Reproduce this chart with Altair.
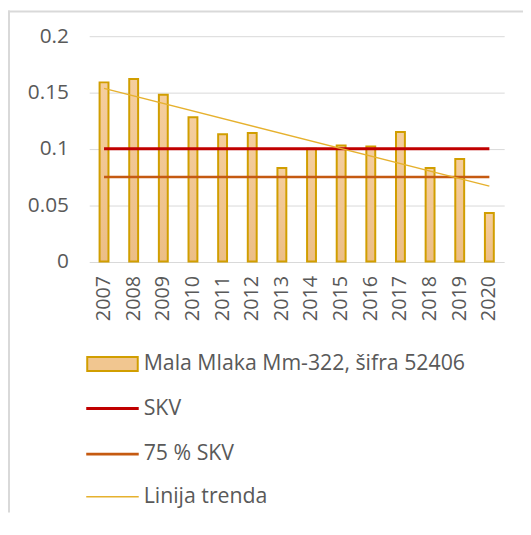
import altair as alt
import pandas as pd

years = [2007, 2008, 2009, 2010, 2011, 2012, 2013, 2014, 2015, 2016, 2017, 2018, 2019, 2020]
values = [0.159, 0.162, 0.148, 0.128, 0.113, 0.114, 0.083, 0.100, 0.103, 0.102, 0.115, 0.083, 0.091, 0.043]
skv_value = 0.1
skv75_value = 0.075
y_ticks = [0, 0.05, 0.1, 0.15, 0.2]
legend_labels = ["Mala Mlaka Mm-322, šifra 52406", "SKV", "75 % SKV", "Linija trenda"]

FONT = "Open Sans"
TXT = "#595959"
GRID = "#D9D9D9"

df = pd.DataFrame({"year": years, "value": values})
df_skv = pd.DataFrame({"year": years, "value": [skv_value] * len(years)})
df_skv75 = pd.DataFrame({"year": years, "value": [skv75_value] * len(years)})

x_scale = alt.Scale(paddingInner=0.7, paddingOuter=0.35)
y_scale = alt.Scale(domain=[0, 0.2], nice=False)

x_enc = alt.X("year:O", scale=x_scale,
              axis=alt.Axis(title=None, labelAngle=-90, ticks=False, domain=False,
                            labelPadding=14, labelFont=FONT, labelFontSize=20,
                            labelColor=TXT, grid=False))
y_enc = alt.Y("value:Q", scale=y_scale,
              axis=alt.Axis(title=None, values=y_ticks, format="~g", ticks=False,
                            domain=False, grid=True, gridColor=GRID, gridWidth=1,
                            labelPadding=21, labelFont=FONT, labelFontSize=21,
                            labelColor=TXT))

bar_fill = alt.Gradient(gradient="linear", x1=0, y1=0, x2=0, y2=1,
                        stops=[alt.GradientStop(color="#F5CE9E", offset=0),
                               alt.GradientStop(color="#ECBE86", offset=1)])

bars = alt.Chart(df).mark_bar(fill=bar_fill, stroke="#D19E00", strokeWidth=2).encode(
    x=x_enc, y=y_enc)

skv = alt.Chart(df_skv).mark_line(color="#C00000", strokeWidth=3).encode(
    x="year:O", y="value:Q")
skv75 = alt.Chart(df_skv75).mark_line(color="#C55A11", strokeWidth=2.5).encode(
    x="year:O", y="value:Q")
trend = alt.Chart(df).transform_regression("year", "value").mark_line(
    color="#E6B12E", strokeWidth=1.5).encode(x="year:O", y="value:Q")

# chart frame drawn as thin rectangles (top edge and left edge)
one = pd.DataFrame({"k": [0]})
border_left = alt.Chart(one).mark_rect(fill=GRID, strokeWidth=0).encode(
    x=alt.value(-82), x2=alt.value(-80), y=alt.value(-26), y2=alt.value(481))
border_top = alt.Chart(one).mark_rect(fill=GRID, strokeWidth=0).encode(
    x=alt.value(-82), x2=alt.value(438), y=alt.value(-26), y2=alt.value(-24))

# manual legend (symbols drawn as small rectangles)
leg_y = [331, 376, 422, 465]
leg_sym_rect = alt.Chart(one).mark_rect(fill="#F1C690", stroke="#D19E00", strokeWidth=2).encode(
    x=alt.value(-2), x2=alt.value(49), y=alt.value(leg_y[0] - 7), y2=alt.value(leg_y[0] + 7))
leg_lines = []
for yy, col, w in [(leg_y[1], "#C00000", 3), (leg_y[2], "#C55A11", 3), (leg_y[3], "#E6B12E", 1.5)]:
    leg_lines.append(alt.Chart(one).mark_rect(fill=col, strokeWidth=0).encode(
        x=alt.value(-3), x2=alt.value(50), y=alt.value(yy - w / 2), y2=alt.value(yy + w / 2)))
leg_texts = []
for lab, yy in zip(legend_labels, leg_y):
    leg_texts.append(alt.Chart(pd.DataFrame({"label": [lab]})).mark_text(
        align="left", baseline="middle", font=FONT, fontSize=21.5, color=TXT).encode(
        x=alt.value(55), y=alt.value(yy), text="label:N"))

chart = alt.layer(
    border_left, border_top, bars, skv, skv75, trend, leg_sym_rect, *leg_lines, *leg_texts
).properties(
    width=419, height=227.5, padding=0, background="white"
).configure_view(
    stroke="transparent", strokeWidth=0
).configure_axis(
    domain=False
)

chart.save("out.html", embed_options={"renderer": "svg", "actions": False})
